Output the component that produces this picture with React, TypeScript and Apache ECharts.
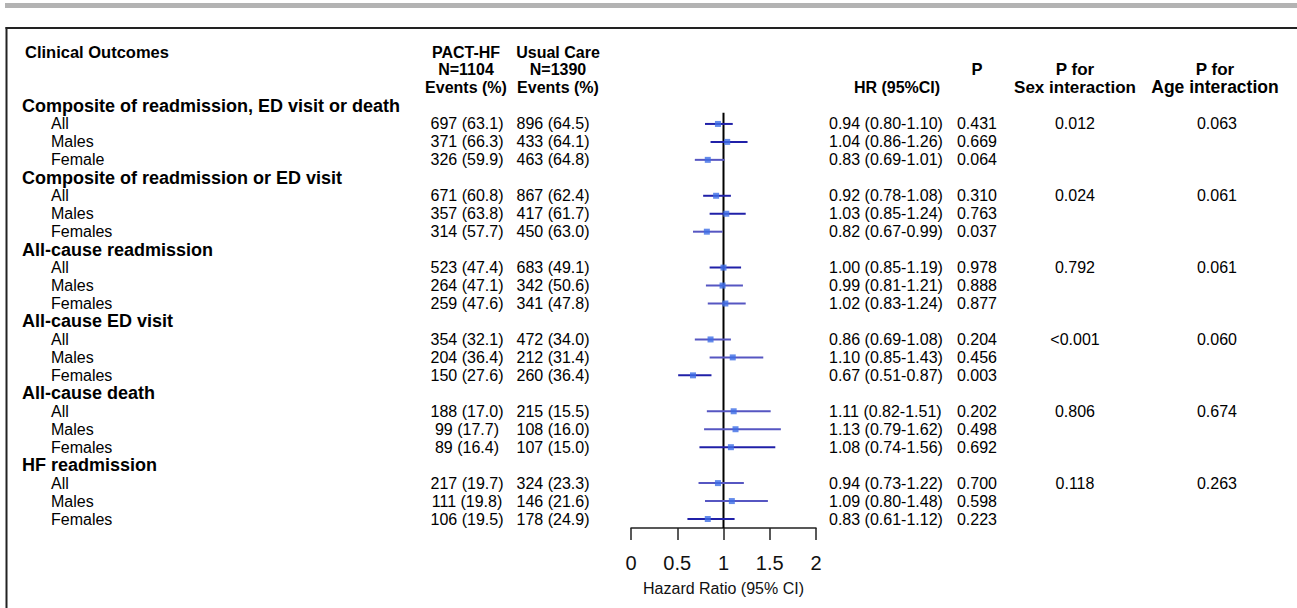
import React, { useEffect, useRef } from "react";
import * as echarts from "echarts";

const FONT = '"Liberation Sans", Arial, Helvetica, sans-serif';

// ---------- data ----------
const outcomes = [
  "Composite of readmission, ED visit or death",
  "Composite of readmission or ED visit",
  "All-cause readmission",
  "All-cause ED visit",
  "All-cause death",
  "HF readmission",
];
const subgroupLabels = [
  ["All", "Males", "Female"],
  ["All", "Males", "Females"],
  ["All", "Males", "Females"],
  ["All", "Males", "Females"],
  ["All", "Males", "Females"],
  ["All", "Males", "Females"],
];
const pactEvents = [
  "697 (63.1)", "371 (66.3)", "326 (59.9)",
  "671 (60.8)", "357 (63.8)", "314 (57.7)",
  "523 (47.4)", "264 (47.1)", "259 (47.6)",
  "354 (32.1)", "204 (36.4)", "150 (27.6)",
  "188 (17.0)", "99 (17.7)", "89 (16.4)",
  "217 (19.7)", "111 (19.8)", "106 (19.5)",
];
const usualEvents = [
  "896 (64.5)", "433 (64.1)", "463 (64.8)",
  "867 (62.4)", "417 (61.7)", "450 (63.0)",
  "683 (49.1)", "342 (50.6)", "341 (47.8)",
  "472 (34.0)", "212 (31.4)", "260 (36.4)",
  "215 (15.5)", "108 (16.0)", "107 (15.0)",
  "324 (23.3)", "146 (21.6)", "178 (24.9)",
];
const hr = [0.94, 1.04, 0.83, 0.92, 1.03, 0.82, 1.0, 0.99, 1.02, 0.86, 1.1, 0.67, 1.11, 1.13, 1.08, 0.94, 1.09, 0.83];
const hrLower = [0.8, 0.86, 0.69, 0.78, 0.85, 0.67, 0.85, 0.81, 0.83, 0.69, 0.85, 0.51, 0.82, 0.79, 0.74, 0.73, 0.8, 0.61];
const hrUpper = [1.1, 1.26, 1.01, 1.08, 1.24, 0.99, 1.19, 1.21, 1.24, 1.08, 1.43, 0.87, 1.51, 1.62, 1.56, 1.22, 1.48, 1.12];
const pValues = [
  "0.431", "0.669", "0.064", "0.310", "0.763", "0.037",
  "0.978", "0.888", "0.877", "0.204", "0.456", "0.003",
  "0.202", "0.498", "0.692", "0.700", "0.598", "0.223",
];
const pSexInteraction = ["0.012", "0.024", "0.792", "<0.001", "0.806", "0.118"];
const pAgeInteraction = ["0.063", "0.061", "0.061", "0.060", "0.674", "0.263"];
const xTicks = [0, 0.5, 1, 1.5, 2];

// ---------- styles ----------
const DARK = "#2020a8";
const LIGHT = "#5656c2";
const ciColors = [
  DARK, DARK, LIGHT,
  DARK, DARK, LIGHT,
  DARK, LIGHT, LIGHT,
  LIGHT, LIGHT, DARK,
  LIGHT, LIGHT, DARK,
  LIGHT, LIGHT, DARK,
];
const COL = { heading: 22, sub: 51, pact: 467, usual: 553, hr: 829, p: 977, sex: 1075, age: 1217 };

// row layout: each outcome = heading row + 3 subgroup rows
const rowKeys: string[] = [];
const rowInfo: { kind: "group" | "sub"; g: number; s: number; d: number }[] = [];
outcomes.forEach((_, g) => {
  rowKeys.push("g" + g);
  rowInfo.push({ kind: "group", g, s: -1, d: -1 });
  for (let s = 0; s < 3; s++) {
    rowKeys.push("r" + g + "_" + s);
    rowInfo.push({ kind: "sub", g, s, d: g * 3 + s });
  }
});
const rowOf = (d: number) => Math.floor(d / 3) * 4 + 1 + (d % 3);

export default function App() {
  const ref = useRef<HTMLDivElement>(null);
  useEffect(() => {
    document.body.style.margin = "0";
    const chart = echarts.init(ref.current!, null, { renderer: "svg" });
    const txt = (text: string, x: number, y: number, size: number, bold: boolean, align = "left") => ({
      type: "text",
      style: {
        text,
        x,
        y,
        fill: "#000",
        fontFamily: FONT,
        fontSize: size,
        fontWeight: bold ? "bold" : "normal",
        align,
        verticalAlign: "middle",
      },
    });
    const option: any = {
      animation: false,
      backgroundColor: "#ffffff",
      textStyle: { fontFamily: FONT },
      grid: { left: 631, top: 97, width: 185, height: 431, containLabel: false },
      xAxis: {
        type: "value",
        min: xTicks[0],
        max: xTicks[xTicks.length - 1],
        interval: 0.5,
        axisLine: { show: true, onZero: false, lineStyle: { color: "#222", width: 1.5 } },
        axisTick: { show: true, inside: false, length: 12, lineStyle: { color: "#222", width: 1.5 } },
        axisLabel: { show: true, fontSize: 20, color: "#111", margin: 25, fontFamily: FONT },
        splitLine: { show: false },
        name: "Hazard Ratio (95% CI)",
        nameLocation: "middle",
        nameGap: 52,
        nameTextStyle: { fontSize: 16, color: "#111", fontFamily: FONT },
      },
      yAxis: { type: "category", data: rowKeys, inverse: true, show: false },
      graphic: [
        { type: "rect", shape: { x: 5, y: 3, width: 1292, height: 5 }, style: { fill: "#b3b3b3" }, silent: true },
        { type: "line", shape: { x1: 5.5, y1: 28, x2: 1297, y2: 28 }, style: { stroke: "#222", lineWidth: 2 } },
        { type: "line", shape: { x1: 6.5, y1: 27, x2: 6.5, y2: 608 }, style: { stroke: "#222", lineWidth: 2 } },
        txt("Clinical Outcomes", 25, 52, 16.5, true),
        txt("PACT-HF", 466, 52, 16, true, "center"),
        txt("N=1104", 466, 69, 16, true, "center"),
        txt("Events (%)", 466, 87, 16, true, "center"),
        txt("Usual Care", 558, 52, 16, true, "center"),
        txt("N=1390", 558, 69, 16, true, "center"),
        txt("Events (%)", 558, 87, 16, true, "center"),
        txt("HR (95%CI)", 897, 87, 16, true, "center"),
        txt("P", COL.p, 69, 16.5, true, "center"),
        txt("P for", COL.sex, 69, 17, true, "center"),
        txt("Sex interaction", COL.sex, 87, 17, true, "center"),
        txt("P for", 1215, 69, 17, true, "center"),
        txt("Age interaction", 1215, 87, 17.5, true, "center"),
      ],
      series: [
        {
          type: "custom",
          name: "table",
          coordinateSystem: "cartesian2d",
          silent: true,
          data: rowKeys.map((_, i) => [0, i]),
          encode: { x: 0, y: 1 },
          renderItem: (_p: any, api: any) => {
            const row = api.value(1) as number;
            const y = api.coord([0, row])[1];
            const info = rowInfo[row];
            const children: any[] = [];
            if (info.kind === "group") {
              children.push(txt(outcomes[info.g], COL.heading, y, 18, true));
            } else {
              const d = info.d;
              children.push(txt(subgroupLabels[info.g][info.s], COL.sub, y, 16, false));
              children.push(txt(pactEvents[d], COL.pact, y, 16, false, "center"));
              children.push(txt(usualEvents[d], COL.usual, y, 16, false, "center"));
              children.push(
                txt(
                  hr[d].toFixed(2) + " (" + hrLower[d].toFixed(2) + "-" + hrUpper[d].toFixed(2) + ")",
                  COL.hr,
                  y,
                  16,
                  false
                )
              );
              children.push(txt(pValues[d], COL.p, y, 16, false, "center"));
              if (info.s === 0) {
                children.push(txt(pSexInteraction[info.g], COL.sex, y, 16, false, "center"));
                children.push(txt(pAgeInteraction[info.g], COL.age, y, 16, false, "center"));
              }
            }
            return { type: "group", children };
          },
          z: 5,
        },
        {
          type: "custom",
          name: "refline",
          coordinateSystem: "cartesian2d",
          silent: true,
          data: [[1, 0]],
          encode: { x: 0, y: 1 },
          renderItem: (_p: any, api: any) => {
            const band = api.size([0, 1])[1];
            const top = api.coord([1, 0]);
            const bottom = api.coord([1, rowKeys.length - 1]);
            return {
              type: "line",
              shape: { x1: top[0], y1: top[1] + band * 0.38, x2: top[0], y2: bottom[1] + band / 2 },
              style: { stroke: "#000", lineWidth: 2 },
            };
          },
          z: 3,
        },
        {
          type: "custom",
          name: "ci",
          coordinateSystem: "cartesian2d",
          silent: true,
          data: hr.map((_, d) => [hrLower[d], hrUpper[d], rowOf(d), d]),
          encode: { x: [0, 1], y: 2 },
          renderItem: (_p: any, api: any) => {
            const row = api.value(2);
            const a = api.coord([api.value(0), row]);
            const b = api.coord([api.value(1), row]);
            const d = api.value(3);
            return {
              type: "line",
              shape: { x1: a[0], y1: a[1], x2: b[0], y2: b[1] },
              style: { stroke: ciColors[d], lineWidth: 2 },
            };
          },
          z: 4,
        },
        {
          type: "scatter",
          name: "HR",
          silent: true,
          symbol: "rect",
          symbolSize: 6,
          itemStyle: { color: "#3d6ee6" },
          data: hr.map((v, d) => [v, rowOf(d)]),
          z: 6,
        },
      ],
    };
    chart.setOption(option);
    return () => chart.dispose();
  }, []);
  return <div ref={ref} style={{ width: 1297, height: 608, position: "absolute", left: 0, top: 0 }} />;
}
